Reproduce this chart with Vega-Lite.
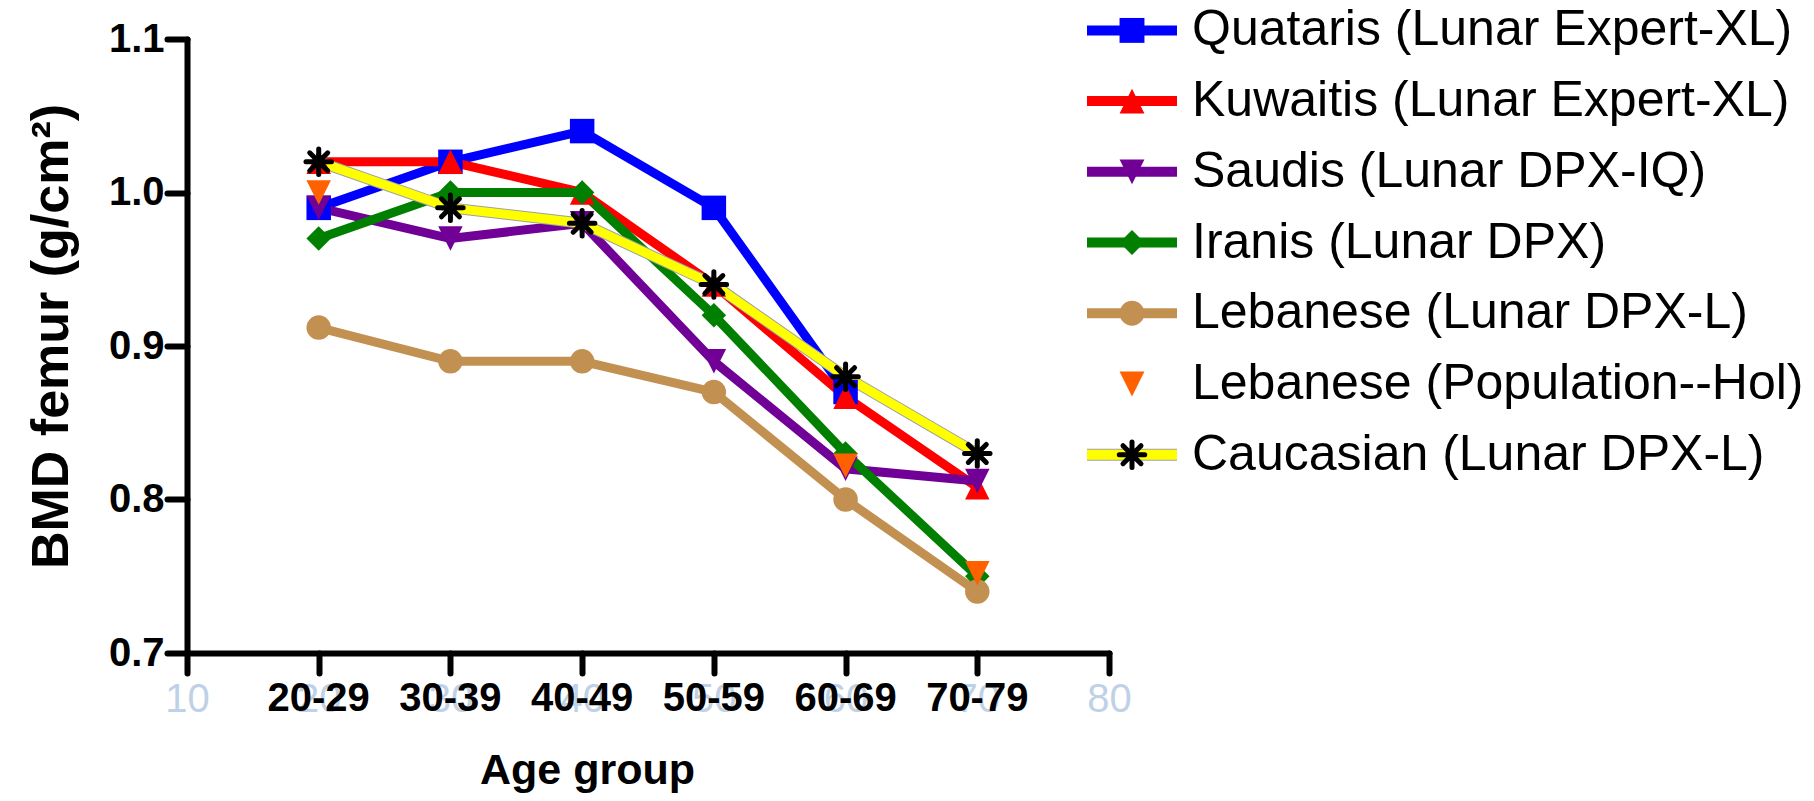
{
  "$schema": "https://vega.github.io/schema/vega-lite/v6.json",
  "autosize": {"type": "none"},
  "width": 922,
  "height": 614,
  "padding": {"left": 187, "top": 39, "right": 705, "bottom": 148},
  "background": "white",
  "config": {
    "view": {"stroke": null},
    "font": "Liberation Sans",
    "axis": {
      "domainColor": "black", "domainWidth": 6, "domainCap": "round",
      "tickColor": "black", "tickWidth": 6, "tickSize": 20, "tickCap": "round",
      "grid": false, "labelColor": "black", "titleColor": "black",
      "labelFont": "Liberation Sans", "titleFont": "Liberation Sans", "labelFlush": false
    },
    "axisX": {"labelFontSize": 40, "labelColor": "#bfd1e6", "labelPadding": 6, "titleFontSize": 43, "titleFontWeight": "bold", "titlePadding": 30, "titleX": 400},
    "axisY": {"labelFontSize": 40, "labelFontWeight": "bold", "labelPadding": 3, "titleFontSize": 52, "titleFontWeight": "bold", "titlePadding": 30, "titleY": 297}
  },
  "datasets": {
    "bmd": [
      {"series": "Quataris (Lunar Expert-XL)", "age": 20, "bmd": 0.99},
      {"series": "Quataris (Lunar Expert-XL)", "age": 30, "bmd": 1.02},
      {"series": "Quataris (Lunar Expert-XL)", "age": 40, "bmd": 1.04},
      {"series": "Quataris (Lunar Expert-XL)", "age": 50, "bmd": 0.99},
      {"series": "Quataris (Lunar Expert-XL)", "age": 60, "bmd": 0.87},
      {"series": "Kuwaitis (Lunar Expert-XL)", "age": 20, "bmd": 1.02},
      {"series": "Kuwaitis (Lunar Expert-XL)", "age": 30, "bmd": 1.02},
      {"series": "Kuwaitis (Lunar Expert-XL)", "age": 40, "bmd": 1.0},
      {"series": "Kuwaitis (Lunar Expert-XL)", "age": 50, "bmd": 0.94},
      {"series": "Kuwaitis (Lunar Expert-XL)", "age": 60, "bmd": 0.867},
      {"series": "Kuwaitis (Lunar Expert-XL)", "age": 70, "bmd": 0.808},
      {"series": "Saudis (Lunar DPX-IQ)", "age": 20, "bmd": 0.99},
      {"series": "Saudis (Lunar DPX-IQ)", "age": 30, "bmd": 0.97},
      {"series": "Saudis (Lunar DPX-IQ)", "age": 40, "bmd": 0.98},
      {"series": "Saudis (Lunar DPX-IQ)", "age": 50, "bmd": 0.89},
      {"series": "Saudis (Lunar DPX-IQ)", "age": 60, "bmd": 0.82},
      {"series": "Saudis (Lunar DPX-IQ)", "age": 70, "bmd": 0.812},
      {"series": "Iranis (Lunar DPX)", "age": 20, "bmd": 0.97},
      {"series": "Iranis (Lunar DPX)", "age": 30, "bmd": 1.0},
      {"series": "Iranis (Lunar DPX)", "age": 40, "bmd": 1.0},
      {"series": "Iranis (Lunar DPX)", "age": 50, "bmd": 0.92},
      {"series": "Iranis (Lunar DPX)", "age": 60, "bmd": 0.83},
      {"series": "Iranis (Lunar DPX)", "age": 70, "bmd": 0.75},
      {"series": "Lebanese (Lunar DPX-L)", "age": 20, "bmd": 0.912},
      {"series": "Lebanese (Lunar DPX-L)", "age": 30, "bmd": 0.89},
      {"series": "Lebanese (Lunar DPX-L)", "age": 40, "bmd": 0.89},
      {"series": "Lebanese (Lunar DPX-L)", "age": 50, "bmd": 0.87},
      {"series": "Lebanese (Lunar DPX-L)", "age": 60, "bmd": 0.8},
      {"series": "Lebanese (Lunar DPX-L)", "age": 70, "bmd": 0.74},
      {"series": "Lebanese (Population--Hol)", "age": 20, "bmd": 1.0},
      {"series": "Lebanese (Population--Hol)", "age": 60, "bmd": 0.822},
      {"series": "Lebanese (Population--Hol)", "age": 70, "bmd": 0.752},
      {"series": "Caucasian (Lunar DPX-L)", "age": 20, "bmd": 1.02},
      {"series": "Caucasian (Lunar DPX-L)", "age": 30, "bmd": 0.99},
      {"series": "Caucasian (Lunar DPX-L)", "age": 40, "bmd": 0.98},
      {"series": "Caucasian (Lunar DPX-L)", "age": 50, "bmd": 0.94},
      {"series": "Caucasian (Lunar DPX-L)", "age": 60, "bmd": 0.88},
      {"series": "Caucasian (Lunar DPX-L)", "age": 70, "bmd": 0.83}
    ],
    "groups": [
      {"age": 20, "group": "20-29"},
      {"age": 30, "group": "30-39"},
      {"age": 40, "group": "40-49"},
      {"age": 50, "group": "50-59"},
      {"age": 60, "group": "60-69"},
      {"age": 70, "group": "70-79"}
    ]
  },
  "resolve": {"scale": {"x": "independent", "y": "independent"}},
  "layer": [
    {
      "layer": [
        {
          "data": {"name": "bmd"},
          "transform": [{"filter": "datum.series !== 'Lebanese (Population--Hol)' && datum.series !== 'Caucasian (Lunar DPX-L)'"}],
          "mark": {"type": "line", "strokeWidth": 9, "strokeJoin": "miter"},
          "encoding": {
            "x": {"field": "age", "type": "quantitative", "title": "Age group",
                  "scale": {"domain": [10, 80], "nice": false, "zero": false},
                  "axis": {"values": [10, 20, 30, 40, 50, 60, 70, 80], "format": "d"}},
            "y": {"field": "bmd", "type": "quantitative", "title": "BMD femur (g/cm²)",
                  "scale": {"domain": [0.7, 1.1], "nice": false, "zero": false},
                  "axis": {"values": [0.7, 0.8, 0.9, 1.0, 1.1], "format": ".1f"}},
            "color": {"field": "series", "type": "nominal", "legend": null,
                      "scale": {"domain": ["Quataris (Lunar Expert-XL)", "Kuwaitis (Lunar Expert-XL)", "Saudis (Lunar DPX-IQ)", "Iranis (Lunar DPX)", "Lebanese (Lunar DPX-L)", "Lebanese (Population--Hol)", "Caucasian (Lunar DPX-L)"],
                                "range": ["#0000ff", "#ff0000", "#700096", "#007f00", "#c29152", "#ff6000", "#ffff00"]}}
          }
        },
        {
          "data": {"name": "bmd"},
          "transform": [{"filter": "datum.series === 'Caucasian (Lunar DPX-L)'"}],
          "mark": {"type": "line", "strokeWidth": 11, "color": "#a0a0a0", "strokeJoin": "miter"},
          "encoding": {
            "x": {"field": "age", "type": "quantitative", "title": "Age group"},
            "y": {"field": "bmd", "type": "quantitative", "title": "BMD femur (g/cm²)"}
          }
        },
        {
          "data": {"name": "bmd"},
          "transform": [{"filter": "datum.series === 'Caucasian (Lunar DPX-L)'"}],
          "mark": {"type": "line", "strokeWidth": 9, "color": "#ffff00", "strokeJoin": "miter"},
          "encoding": {
            "x": {"field": "age", "type": "quantitative", "title": "Age group"},
            "y": {"field": "bmd", "type": "quantitative", "title": "BMD femur (g/cm²)"}
          }
        },
        {
          "data": {"name": "bmd"},
          "transform": [{"filter": "datum.series !== 'Caucasian (Lunar DPX-L)'"}],
          "mark": {"type": "point", "filled": true, "opacity": 1, "size": 600, "strokeWidth": 0},
          "encoding": {
            "x": {"field": "age", "type": "quantitative", "title": "Age group"},
            "y": {"field": "bmd", "type": "quantitative", "title": "BMD femur (g/cm²)"},
            "color": {"field": "series", "type": "nominal", "legend": null},
            "shape": {"field": "series", "type": "nominal", "legend": null,
                      "scale": {"domain": ["Quataris (Lunar Expert-XL)", "Kuwaitis (Lunar Expert-XL)", "Saudis (Lunar DPX-IQ)", "Iranis (Lunar DPX)", "Lebanese (Lunar DPX-L)", "Lebanese (Population--Hol)", "Caucasian (Lunar DPX-L)"],
                                "range": ["square", "M0,-1L1,1L-1,1Z", "M0,1L1,-1L-1,-1Z", "diamond", "circle", "M0,1L1,-1L-1,-1Z", "cross"]}}
          }
        },
        {
          "data": {"name": "bmd"},
          "transform": [{"filter": "datum.series === 'Caucasian (Lunar DPX-L)'"}],
          "mark": {"type": "point", "shape": "M-0.85,0L0.85,0M0,-0.85L0,0.85M-0.6,-0.6L0.6,0.6M-0.6,0.6L0.6,-0.6", "filled": false, "opacity": 1, "color": "black", "strokeWidth": 5, "strokeCap": "round", "size": 900},
          "encoding": {
            "x": {"field": "age", "type": "quantitative", "title": "Age group"},
            "y": {"field": "bmd", "type": "quantitative", "title": "BMD femur (g/cm²)"}
          }
        },
        {
          "data": {"name": "groups"},
          "mark": {"type": "text", "fontSize": 40, "fontWeight": "bold", "font": "Liberation Sans", "baseline": "middle", "align": "center", "dy": 46, "color": "black"},
          "encoding": {
            "x": {"field": "age", "type": "quantitative", "title": "Age group"},
            "y": {"datum": 0.7, "type": "quantitative"},
            "text": {"field": "group"}
          }
        }
      ]
    },
    {
      "data": {"name": "bmd"},
      "transform": [{"aggregate": [{"op": "count", "as": "n"}], "groupby": ["series"]}],
      "encoding": {
        "y": {"field": "series", "type": "nominal", "axis": null,
              "scale": {"type": "point", "padding": 0, "range": [-8.6, 415.7],
                        "domain": ["Quataris (Lunar Expert-XL)", "Kuwaitis (Lunar Expert-XL)", "Saudis (Lunar DPX-IQ)", "Iranis (Lunar DPX)", "Lebanese (Lunar DPX-L)", "Lebanese (Population--Hol)", "Caucasian (Lunar DPX-L)"]}}
      },
      "layer": [
        {
          "transform": [{"filter": "datum.series === 'Caucasian (Lunar DPX-L)'"}],
          "mark": {"type": "rule", "color": "#a0a0a0", "strokeWidth": 12},
          "encoding": {
            "x": {"datum": 0, "type": "quantitative", "axis": null, "scale": {"domain": [0, 1], "range": [900, 990]}},
            "x2": {"datum": 1}
          }
        },
        {
          "transform": [{"filter": "datum.series !== 'Lebanese (Population--Hol)'"}],
          "mark": {"type": "rule", "strokeWidth": 10},
          "encoding": {
            "x": {"datum": 0, "type": "quantitative"},
            "x2": {"datum": 1},
            "color": {"field": "series", "type": "nominal", "legend": null}
          }
        },
        {
          "transform": [{"filter": "datum.series !== 'Caucasian (Lunar DPX-L)'"}],
          "mark": {"type": "point", "filled": true, "opacity": 1, "size": 620, "strokeWidth": 0},
          "encoding": {
            "x": {"datum": 0.5, "type": "quantitative"},
            "color": {"field": "series", "type": "nominal", "legend": null},
            "shape": {"field": "series", "type": "nominal", "legend": null}
          }
        },
        {
          "transform": [{"filter": "datum.series === 'Caucasian (Lunar DPX-L)'"}],
          "mark": {"type": "point", "shape": "M-0.85,0L0.85,0M0,-0.85L0,0.85M-0.6,-0.6L0.6,0.6M-0.6,0.6L0.6,-0.6", "filled": false, "opacity": 1, "color": "black", "strokeWidth": 5, "strokeCap": "round", "size": 900},
          "encoding": {
            "x": {"datum": 0.5, "type": "quantitative"}
          }
        },
        {
          "mark": {"type": "text", "align": "left", "baseline": "middle", "dx": 15, "fontSize": 50, "font": "Liberation Sans", "color": "black"},
          "encoding": {
            "x": {"datum": 1, "type": "quantitative"},
            "text": {"field": "series"}
          }
        }
      ]
    }
  ]
}
